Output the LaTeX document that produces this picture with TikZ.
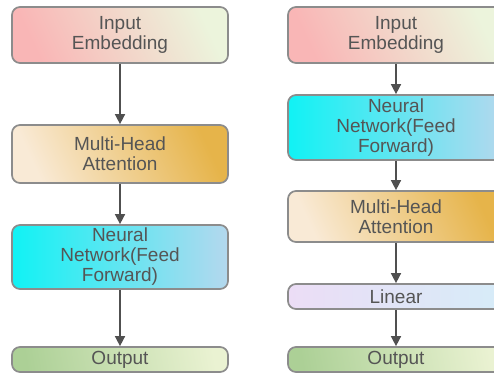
\documentclass[tikz,border=0pt]{standalone}
\usepackage{fontspec}
\setmainfont{Liberation Sans}
\usetikzlibrary{arrows.meta}
\definecolor{bordergray}{HTML}{8C8C8C}
\definecolor{txtgray}{HTML}{555555}
\definecolor{arrgray}{HTML}{505050}
\definecolor{pinkA}{HTML}{F9B6B6}
\definecolor{paleB}{HTML}{ECF4DC}
\definecolor{creamA}{HTML}{F9EAD6}
\definecolor{goldB}{HTML}{E6B44A}
\definecolor{cyanA}{HTML}{10F2F4}
\definecolor{blueB}{HTML}{B4D8EE}
\definecolor{greenA}{HTML}{ACD096}
\definecolor{greenB}{HTML}{EAF2D2}
\definecolor{lavA}{HTML}{ECDDF6}
\definecolor{lblB}{HTML}{D6ECF8}
\tikzset{
  box/.style={draw=bordergray, line width=1.7pt, rounded corners=8pt,
    minimum width=216pt, inner sep=0pt, align=center, text=txtgray,
    font=\fontsize{19}{20}\selectfont},
  inemb/.style={box, left color=pinkA, right color=paleB, shading angle=115},
  mha/.style={box, left color=creamA, right color=goldB, shading angle=115},
  nnff/.style={box, left color=cyanA, right color=blueB},
  outp/.style={box, left color=greenA, right color=greenB, shading angle=100},
  linr/.style={box, left color=lavA, right color=lblB},
  arr/.style={draw=arrgray, line width=1.5pt, -{Triangle[length=10pt,width=10pt]}}
}
\begin{document}
\begin{tikzpicture}[x=1pt,y=-1pt]
\useasboundingbox (0,0) rectangle (494,374);
\clip (0,0) rectangle (494,374);
\fill[white] (0,0) rectangle (494,374);
% left column
\node[inemb, minimum height=56pt] (in1) at (120,35) {Input\\Embedding};
\node[mha, minimum height=58pt] (mh1) at (120,154) {Multi-Head\\Attention};
\node[nnff, minimum height=64pt] (nn1) at (120,257) {Neural\\Network(Feed\\Forward)};
\node[outp, minimum height=25pt] (out1) at (120,359.5) {Output};
% right column
\node[inemb, minimum height=56pt] (in2) at (396,35) {Input\\Embedding};
\node[nnff, minimum height=65pt] (nn2) at (396,127.5) {Neural\\Network(Feed\\Forward)};
\node[mha, minimum height=51pt] (mh2) at (396,216.5) {Multi-Head\\Attention};
\node[linr, minimum height=25pt] (lin2) at (396,296.5) {Linear};
\node[outp, minimum height=25pt] (out2) at (396,359.5) {Output};
% arrows
\draw[arr] (in1) -- (mh1);
\draw[arr] (mh1) -- (nn1);
\draw[arr] (nn1) -- (out1);
\draw[arr] (in2) -- (nn2);
\draw[arr] (nn2) -- (mh2);
\draw[arr] (mh2) -- (lin2);
\draw[arr] (lin2) -- (out2);
\end{tikzpicture}
\end{document}
